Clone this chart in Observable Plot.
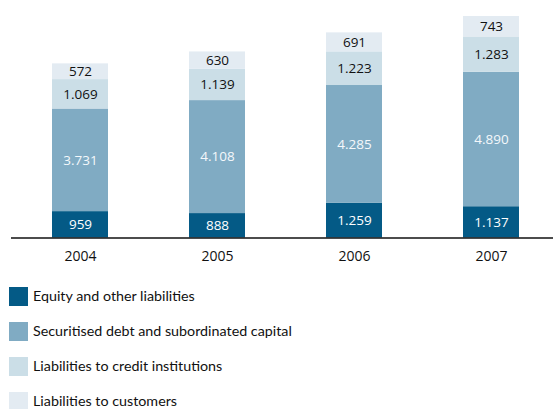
<!DOCTYPE html>
<html>
<head>
<meta charset="utf-8">
<script src="https://cdn.jsdelivr.net/npm/d3@7"></script>
<script src="https://cdn.jsdelivr.net/npm/@observablehq/plot@0.6"></script>
<style>
  html, body { margin: 0; padding: 0; background: #fff; }
  #chart svg { display: block; }
  .legend { font-family: Lato, "Open Sans", sans-serif; font-size: 14.3px; color: #111; margin-top: 17px; }
  .legend .item { display: flex; align-items: center; height: 19px; margin-bottom: 16px; }
  .legend .item span.t { line-height: 1; }
  .legend .sw { width: 19px; height: 19px; margin-left: 9px; margin-right: 5px; flex: none; }
</style>
</head>
<body>
<div id="chart"></div>
<div class="legend" id="legend"></div>
<script>
const years = ["2004", "2005", "2006", "2007"];
const seriesNames = [
  "Equity and other liabilities",
  "Securitised debt and subordinated capital",
  "Liabilities to credit institutions",
  "Liabilities to customers"
];
const equity = [959, 888, 1259, 1137];
const securitised = [3731, 4108, 4285, 4890];
const credit = [1069, 1139, 1223, 1283];
const customers = [572, 630, 691, 743];
const colors = ["#045a86", "#80abc3", "#cbdee7", "#e3ebf2"];
const labelColors = ["#ffffff", "#f4f8fb", "#111111", "#111111"];

const seriesValues = [equity, securitised, credit, customers];
const data = [];
const cum = years.map(() => 0);
seriesNames.forEach((s, i) => {
  years.forEach((y, j) => {
    const v = seriesValues[i][j];
    data.push({year: y, series: s, value: v, si: i, y1: cum[j], y2: cum[j] + v, mid: cum[j] + v / 2});
    cum[j] += v;
  });
});

const fmt = d3.formatLocale({decimal: ",", thousands: ".", grouping: [3], currency: ["", ""]}).format(",");

const plot = Plot.plot({
  width: 553,
  height: 270,
  marginLeft: 11,
  marginRight: 0,
  marginTop: 0,
  marginBottom: 32.5,
  style: {fontFamily: "'Open Sans', sans-serif", fontSize: "13px", color: "#111", background: "#fff"},
  x: {domain: years, paddingInner: 0.592, paddingOuter: 0.27, align: 0.54, label: null},
  y: {domain: [0, 8635], axis: null},
  color: {domain: seriesNames, range: colors},
  marks: [
    Plot.barY(data, {x: "year", y1: "y1", y2: "y2", fill: "series"}),
    Plot.text(data, {
      x: "year", y: "mid",
      text: d => fmt(d.value),
      fill: d => labelColors[d.si],
      fontSize: 13.5
    }),
    Plot.ruleY([0], {stroke: "#111", strokeWidth: 1.3}),
    Plot.axisX({tickSize: 0, tickPadding: 13.5, fontSize: 14, label: null})
  ]
});
document.getElementById("chart").appendChild(plot);

const legend = document.getElementById("legend");
seriesNames.forEach((s, i) => {
  const item = document.createElement("div");
  item.className = "item";
  const sw = document.createElement("span");
  sw.className = "sw";
  sw.style.background = colors[i];
  const t = document.createElement("span");
  t.className = "t";
  t.textContent = s;
  item.appendChild(sw);
  item.appendChild(t);
  legend.appendChild(item);
});
</script>
</body>
</html>
